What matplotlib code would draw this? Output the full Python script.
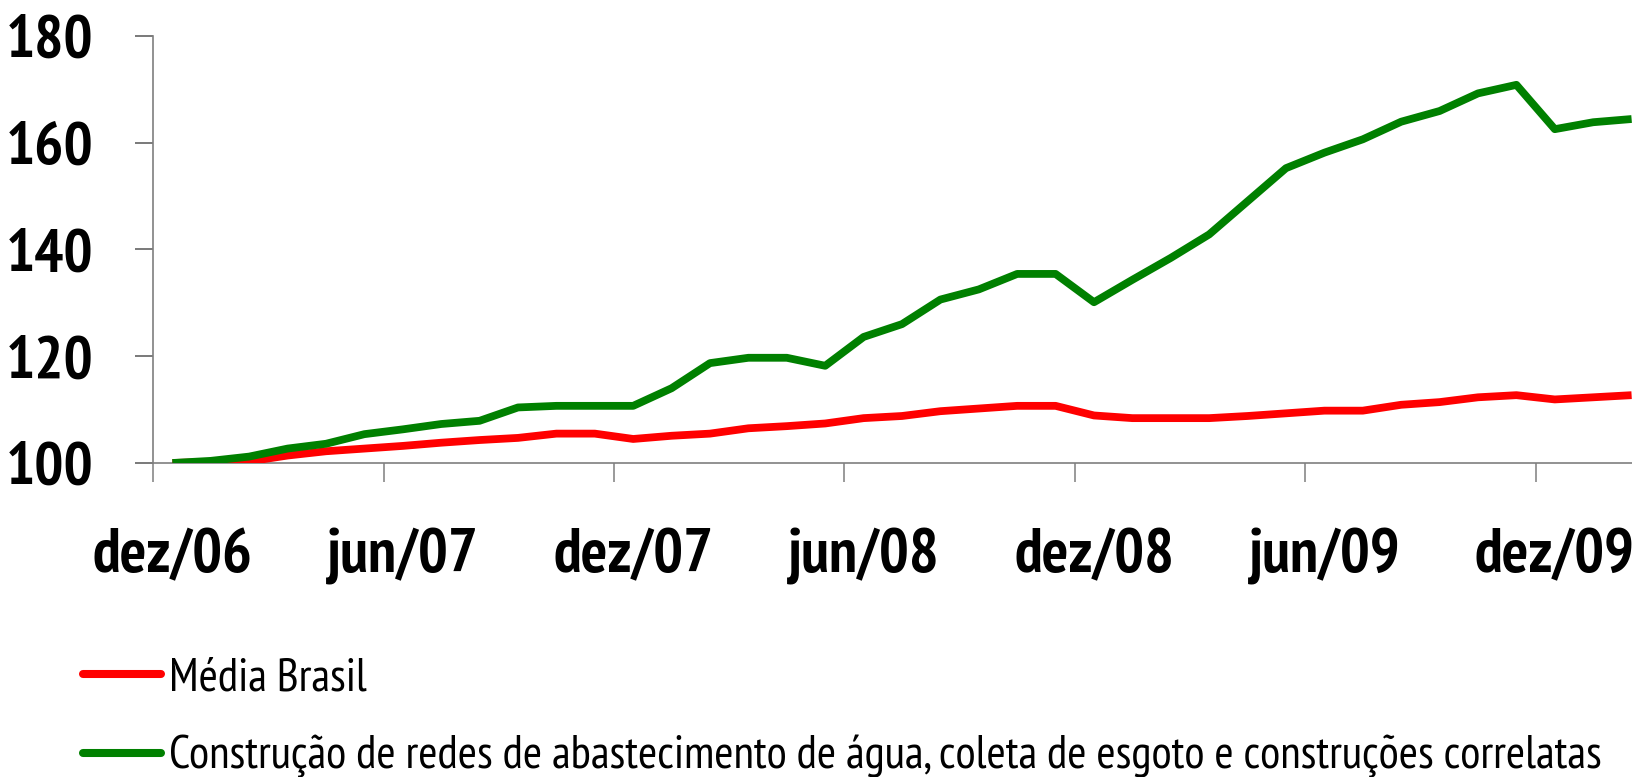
import matplotlib
matplotlib.use("Agg")
import matplotlib.pyplot as plt
from matplotlib import font_manager as fm
from matplotlib.ticker import FixedLocator

# ---- data ----
months = ["dez/06", "jan/07", "fev/07", "mar/07", "abr/07", "mai/07", "jun/07",
          "jul/07", "ago/07", "set/07", "out/07", "nov/07", "dez/07",
          "jan/08", "fev/08", "mar/08", "abr/08", "mai/08", "jun/08",
          "jul/08", "ago/08", "set/08", "out/08", "nov/08", "dez/08",
          "jan/09", "fev/09", "mar/09", "abr/09", "mai/09", "jun/09",
          "jul/09", "ago/09", "set/09", "out/09", "nov/09", "dez/09",
          "jan/10", "fev/10"]
media_brasil = [100.0, 100.2, 100.3, 101.4, 102.2, 102.7, 103.2, 103.8, 104.3, 104.7,
                105.5, 105.5, 104.5, 105.1, 105.5, 106.5, 106.9, 107.4, 108.4, 108.8,
                109.7, 110.2, 110.7, 110.7, 108.9, 108.4, 108.4, 108.4, 108.8, 109.3,
                109.8, 109.8, 110.9, 111.4, 112.3, 112.7, 111.9, 112.3, 112.7]
construcao = [100.0, 100.4, 101.2, 102.7, 103.6, 105.4, 106.3, 107.3, 107.9, 110.4,
              110.7, 110.7, 110.7, 114.0, 118.7, 119.7, 119.7, 118.2, 123.6, 126.0,
              130.6, 132.5, 135.4, 135.4, 130.1, 134.3, 138.4, 142.8, 149.0, 155.2,
              158.1, 160.6, 163.9, 165.9, 169.2, 170.8, 162.5, 163.8, 164.4]
label_media = "Média Brasil"
label_constr = "Construção de redes de abastecimento de água, coleta de esgoto e construções correlatas"
yticks = [100, 120, 140, 160, 180]

# ---- fonts: pick a narrow sans with real bold ----
weights = {}
for f in fm.fontManager.ttflist:
    w = f.weight if isinstance(f.weight, int) else 400
    weights.setdefault(f.name, set()).add(w)
cands = ["Liberation Sans Narrow", "Arial Narrow", "PT Sans Narrow", "IBM Plex Sans Condensed",
         "Archivo Narrow", "Roboto Condensed"]
narrow = None
for c in cands:
    if c in weights and 700 in weights[c]:
        narrow = c
        break
if narrow is None:
    narrow = "DejaVu Sans"
plt.rcParams["font.family"] = [narrow, "DejaVu Sans"]

W, H = 1632, 777
fig = plt.figure(figsize=(W / 100, H / 100), dpi=100)
n_cat_axis = 40
left_px, month_px = 153.2, 38.4
ax = fig.add_axes([left_px / W, (H - 463) / H, month_px * n_cat_axis / W, (463 - 35.7) / H])

x = list(range(len(months)))
ax.plot(x, media_brasil, color="#FF0000", lw=5.6, solid_joinstyle="round",
        solid_capstyle="butt", label=label_media, zorder=3)
ax.plot(x, construcao, color="#008000", lw=5.6, solid_joinstyle="round",
        solid_capstyle="butt", label=label_constr, zorder=4)

ax.set_xlim(-0.5, n_cat_axis - 0.5)
ax.set_ylim(100, 180)

for s in ["top", "right"]:
    ax.spines[s].set_visible(False)
for s in ["left", "bottom"]:
    ax.spines[s].set_color("#7f7f7f")
    ax.spines[s].set_linewidth(1.2)

ax.set_yticks(yticks)
ax.set_yticklabels([str(v) for v in yticks], fontsize=44, fontweight="bold")
ax.tick_params(axis="y", direction="out", length=13.3, width=1.1, color="#555555", pad=30)

lab_idx = list(range(0, len(months), 6))
ax.set_xticks(lab_idx)
ax.set_xticklabels([months[i] for i in lab_idx], fontsize=45, fontweight="bold")
ax.tick_params(axis="x", which="major", length=0, pad=47)
ax.xaxis.set_minor_locator(FixedLocator([i - 0.5 for i in range(0, n_cat_axis, 6)]))
ax.tick_params(axis="x", which="minor", direction="out", length=13.5, width=1.1, color="#7f7f7f")

leg = fig.legend(loc="upper left", bbox_to_anchor=(83.3 / W, 1 - 657.5 / H),
                 frameon=False, fontsize=33.5, handlelength=1.68, handletextpad=0.16,
                 labelspacing=0.77, borderpad=0, borderaxespad=0)
for h in leg.get_lines():
    h.set_linewidth(5.8)
    h.set_solid_capstyle("round")

fig.savefig("out.png", dpi=100)
